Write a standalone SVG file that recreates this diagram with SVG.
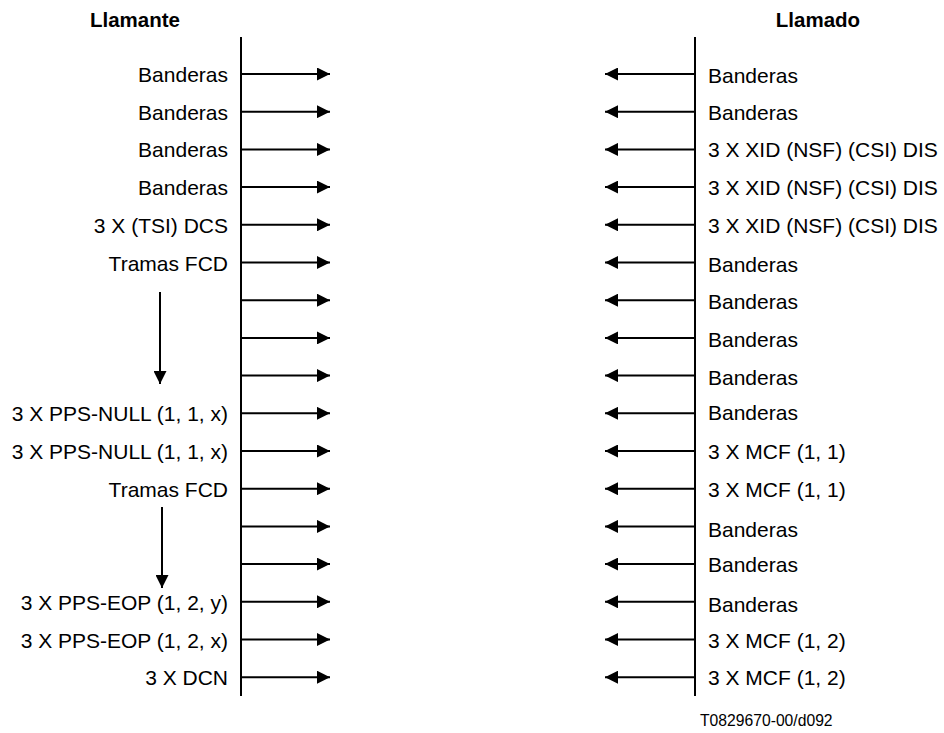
<svg xmlns="http://www.w3.org/2000/svg" width="944" height="733" viewBox="0 0 944 733">
<style>
text{font-family:"Liberation Sans",Arial,sans-serif;font-size:21px;fill:#000}
.h{font-weight:bold;text-anchor:middle;font-size:20.5px}
.l{text-anchor:end}
.f{font-size:15.7px}
line{stroke:#000;stroke-width:2}
</style>
<defs>
<marker id="ah" viewBox="0 0 13 13" refX="13" refY="6.5" markerWidth="13" markerHeight="13" markerUnits="userSpaceOnUse" orient="auto"><path d="M0,0L13,6.5L0,13z" fill="#000"/></marker>
</defs>
<g id="caller">
<text class="h" x="135" y="27">Llamante</text>
<line x1="241" y1="37" x2="241" y2="696"/>
</g>
<g id="called">
<text class="h" x="818" y="27">Llamado</text>
<line x1="695" y1="37" x2="695" y2="696"/>
</g>
<g id="connectors">
<line x1="241" y1="74" x2="330" y2="74" marker-end="url(#ah)"/>
<line x1="241" y1="111.7" x2="330" y2="111.7" marker-end="url(#ah)"/>
<line x1="241" y1="149.4" x2="330" y2="149.4" marker-end="url(#ah)"/>
<line x1="241" y1="187.1" x2="330" y2="187.1" marker-end="url(#ah)"/>
<line x1="241" y1="224.8" x2="330" y2="224.8" marker-end="url(#ah)"/>
<line x1="241" y1="262.5" x2="330" y2="262.5" marker-end="url(#ah)"/>
<line x1="241" y1="300.2" x2="330" y2="300.2" marker-end="url(#ah)"/>
<line x1="241" y1="337.9" x2="330" y2="337.9" marker-end="url(#ah)"/>
<line x1="241" y1="375.6" x2="330" y2="375.6" marker-end="url(#ah)"/>
<line x1="241" y1="413.3" x2="330" y2="413.3" marker-end="url(#ah)"/>
<line x1="241" y1="451" x2="330" y2="451" marker-end="url(#ah)"/>
<line x1="241" y1="488.7" x2="330" y2="488.7" marker-end="url(#ah)"/>
<line x1="241" y1="526.4" x2="330" y2="526.4" marker-end="url(#ah)"/>
<line x1="241" y1="564.1" x2="330" y2="564.1" marker-end="url(#ah)"/>
<line x1="241" y1="601.8" x2="330" y2="601.8" marker-end="url(#ah)"/>
<line x1="241" y1="639.5" x2="330" y2="639.5" marker-end="url(#ah)"/>
<line x1="241" y1="677.2" x2="330" y2="677.2" marker-end="url(#ah)"/>
<line x1="695" y1="74" x2="605" y2="74" marker-end="url(#ah)"/>
<line x1="695" y1="111.7" x2="605" y2="111.7" marker-end="url(#ah)"/>
<line x1="695" y1="149.4" x2="605" y2="149.4" marker-end="url(#ah)"/>
<line x1="695" y1="187.1" x2="605" y2="187.1" marker-end="url(#ah)"/>
<line x1="695" y1="224.8" x2="605" y2="224.8" marker-end="url(#ah)"/>
<line x1="695" y1="262.5" x2="605" y2="262.5" marker-end="url(#ah)"/>
<line x1="695" y1="300.2" x2="605" y2="300.2" marker-end="url(#ah)"/>
<line x1="695" y1="337.9" x2="605" y2="337.9" marker-end="url(#ah)"/>
<line x1="695" y1="375.6" x2="605" y2="375.6" marker-end="url(#ah)"/>
<line x1="695" y1="413.3" x2="605" y2="413.3" marker-end="url(#ah)"/>
<line x1="695" y1="451" x2="605" y2="451" marker-end="url(#ah)"/>
<line x1="695" y1="488.7" x2="605" y2="488.7" marker-end="url(#ah)"/>
<line x1="695" y1="526.4" x2="605" y2="526.4" marker-end="url(#ah)"/>
<line x1="695" y1="564.1" x2="605" y2="564.1" marker-end="url(#ah)"/>
<line x1="695" y1="601.8" x2="605" y2="601.8" marker-end="url(#ah)"/>
<line x1="695" y1="639.5" x2="605" y2="639.5" marker-end="url(#ah)"/>
<line x1="695" y1="677.2" x2="605" y2="677.2" marker-end="url(#ah)"/>
<line x1="160" y1="292" x2="160" y2="384" marker-end="url(#ah)"/>
<line x1="162" y1="507" x2="162" y2="588" marker-end="url(#ah)"/>
</g>
<g id="caller-labels">
<text class="l" x="228" y="82">Banderas</text>
<text class="l" x="228" y="119.7">Banderas</text>
<text class="l" x="228" y="157.4">Banderas</text>
<text class="l" x="228" y="195.1">Banderas</text>
<text class="l" x="228" y="232.8">3 X (TSI) DCS</text>
<text class="l" x="228" y="270.5">Tramas FCD</text>
<text class="l" x="228" y="421.3">3 X PPS-NULL (1, 1, x)</text>
<text class="l" x="228" y="459">3 X PPS-NULL (1, 1, x)</text>
<text class="l" x="228" y="496.7">Tramas FCD</text>
<text class="l" x="228" y="609.8">3 X PPS-EOP (1, 2, y)</text>
<text class="l" x="228" y="647.5">3 X PPS-EOP (1, 2, x)</text>
<text class="l" x="228" y="685.2">3 X DCN</text>
</g>
<g id="called-labels">
<text x="708" y="83">Banderas</text>
<text x="708" y="120.2">Banderas</text>
<text x="708" y="157.4">3 X XID (NSF) (CSI) DIS</text>
<text x="708" y="195.1">3 X XID (NSF) (CSI) DIS</text>
<text x="708" y="232.8">3 X XID (NSF) (CSI) DIS</text>
<text x="708" y="271.5">Banderas</text>
<text x="708" y="309.2">Banderas</text>
<text x="708" y="346.9">Banderas</text>
<text x="708" y="384.6">Banderas</text>
<text x="708" y="419.5">Banderas</text>
<text x="708" y="459">3 X MCF (1, 1)</text>
<text x="708" y="496.7">3 X MCF (1, 1)</text>
<text x="708" y="537">Banderas</text>
<text x="708" y="571.5">Banderas</text>
<text x="708" y="612">Banderas</text>
<text x="708" y="647.5">3 X MCF (1, 2)</text>
<text x="708" y="685.2">3 X MCF (1, 2)</text>
</g>
<text class="f" x="700" y="726">T0829670-00/d092</text>
</svg>
